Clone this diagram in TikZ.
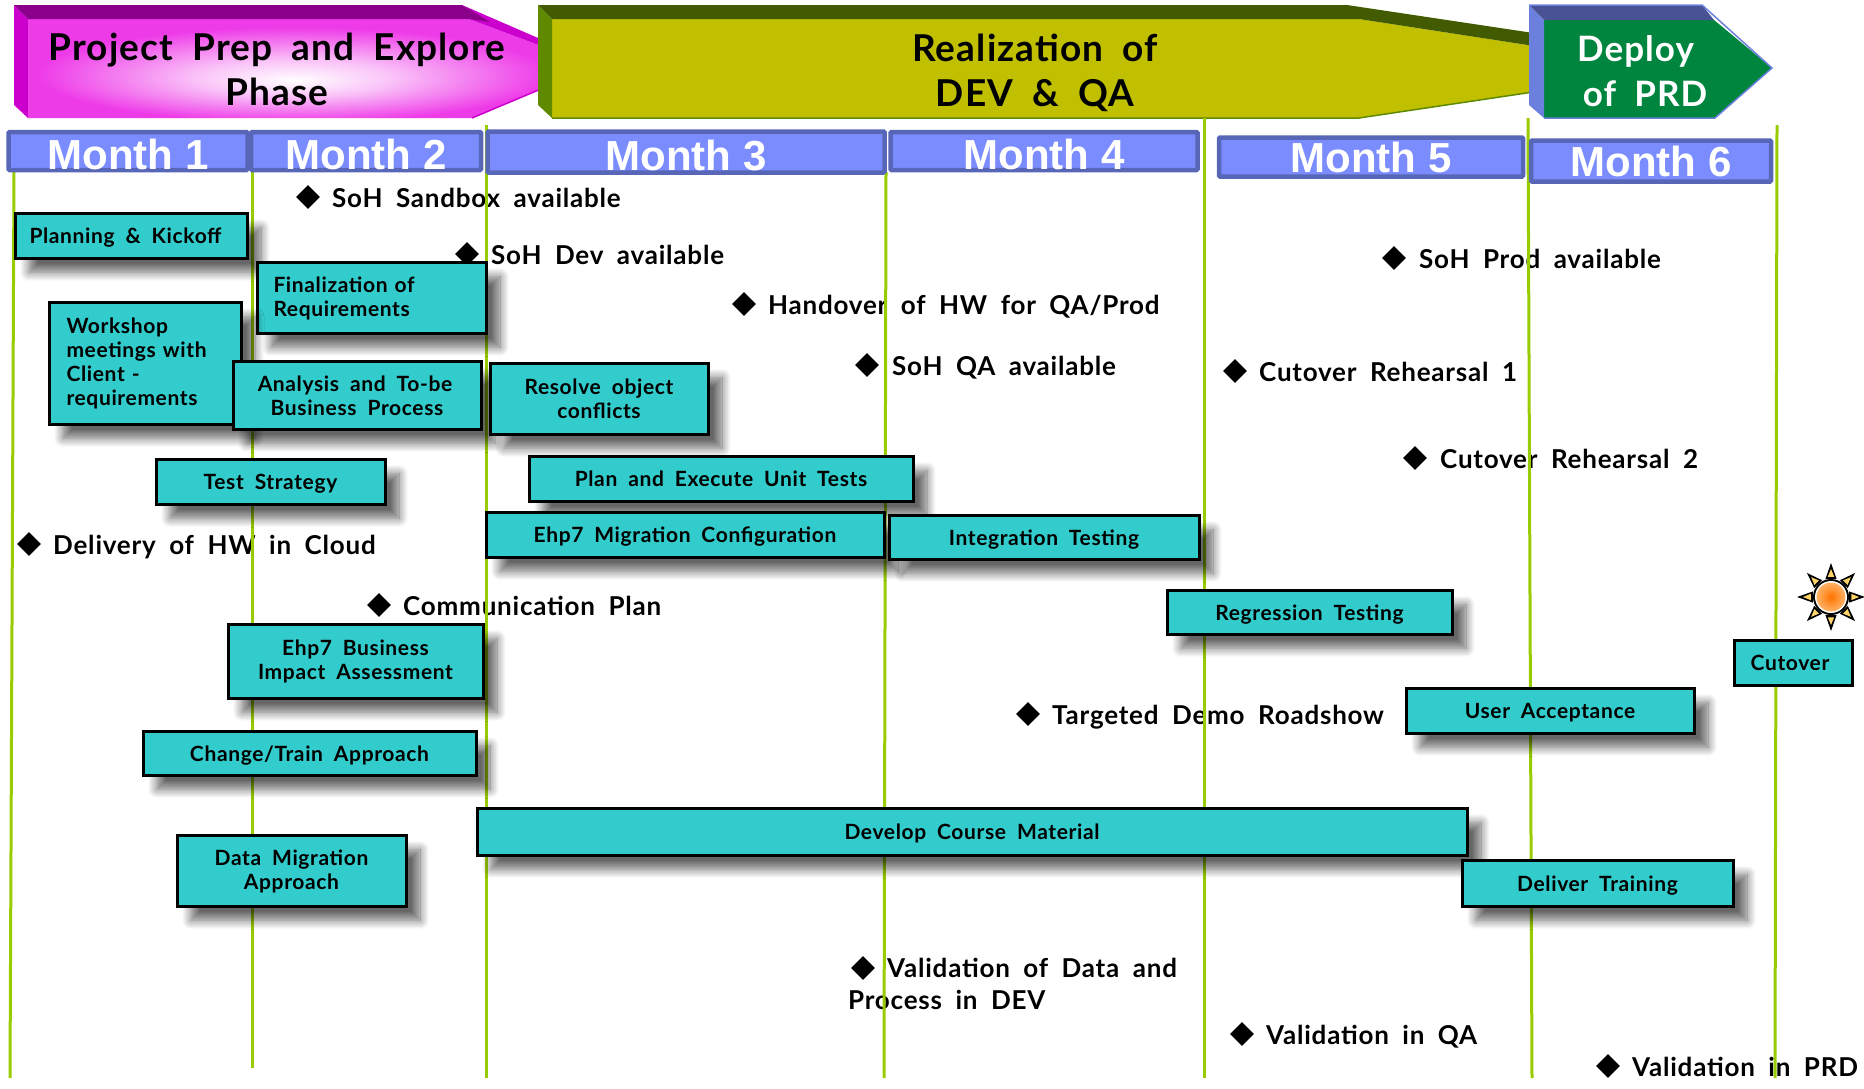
\documentclass[tikz,border=0pt]{standalone}
\usepackage{fontspec}
\setmainfont{Lato}[WordSpace=1.9,LetterSpace=3]
\newfontfamily\monthfont{Liberation Sans}
\usetikzlibrary{calc,shapes.geometric,shadows.blur}

\definecolor{taskteal}{HTML}{33CCCC}
\definecolor{gridgreen}{HTML}{99CC00}
\definecolor{monthfill}{HTML}{7B8CFF}
\definecolor{monthedge}{HTML}{5866B8}
\definecolor{prepface}{HTML}{EE3BE8}
\definecolor{prepside}{HTML}{CC00CC}
\definecolor{preptop}{HTML}{8B008B}
\definecolor{devface}{HTML}{C0C000}
\definecolor{devside}{HTML}{5F8A00}
\definecolor{devtop}{HTML}{425B00}
\definecolor{prdface}{HTML}{00853F}
\definecolor{prdside}{HTML}{6B7FDC}
\definecolor{prdtop}{HTML}{4A5296}
\definecolor{rayfill}{HTML}{FFD466}

\pgfdeclareradialshading{prepglow}{\pgfpoint{0bp}{-6bp}}{%
  color(0bp)=(white); color(9bp)=(white!70!prepface); color(24bp)=(prepface); color(50bp)=(prepface)}

\tikzset{
  plainbox/.style={draw=black,line width=3pt,fill=taskteal,inner sep=0pt,outer sep=0pt,align=center,
    font=\fontsize{21}{24}\selectfont\bfseries},
  taskbox/.style={plainbox,
    blur shadow={shadow xshift=14pt,shadow yshift=-14pt,shadow blur radius=9pt,shadow blur steps=12,shadow opacity=60}},
  oneline/.style={text height=21pt,text depth=6pt},
  monthbar/.style={draw=monthedge,line width=4.5pt,fill=monthfill,inner sep=0pt,text=white,rounded corners=1pt,
    font=\monthfont\fontsize{42}{42}\selectfont\bfseries},
  lowmonth/.style={monthbar,text height=37pt,text depth=0pt},
  gem/.style={diamond,fill=black,minimum size=24pt,inner sep=0pt},
  milestone/.style={anchor=west,inner sep=0pt,align=left,font=\fontsize{26}{32}\selectfont\bfseries},
  onemark/.style={milestone,text height=27pt,text depth=7pt},
  gridline/.style={gridgreen,line width=3pt},
  phasetitle/.style={align=center,inner sep=0pt,font=\fontsize{37}{45}\selectfont\bfseries}
}

\begin{document}
\begin{tikzpicture}[x=1pt,y=-1pt]

\useasboundingbox (0,0) rectangle (1864,1088);

% Prep phase arrow
\fill[prepside] (14,5) -- (28,19) -- (28,118) -- (14,105) -- cycle;
\path[shading=prepglow] (28,19) -- (469,19) -- (560,53) -- (560,81) -- (472,118) -- (28,118) -- cycle;
\fill[prepside] (462,5) -- (560,47.5) -- (560,53) -- (469,19) -- cycle;
\fill[preptop] (14,5) -- (462,5) -- (490,22) -- (469,19) -- (28,19) -- cycle;
\draw[prepside,line width=1.5pt] (472,118) -- (560,81);

% Realization phase arrow
\fill[devface] (552,19) -- (1359,19) -- (1560,50) -- (1560,88) -- (1359,118) -- (552,118) -- cycle;
\fill[devside] (538,5) -- (552,19) -- (552,118) -- (538,105) -- cycle;
\fill[devtop] (538,5) -- (1347,5) -- (1560,37) -- (1560,50) -- (1359,19) -- (552,19) -- cycle;
\draw[devside,line width=1.5pt] (552,118) -- (1359,118) -- (1560,88);

% Deploy phase arrow
\fill[prdface] (1544,20) -- (1714,20) -- (1772,68) -- (1715,118) -- (1544,118) -- cycle;
\fill[prdside] (1529,5) -- (1544,20) -- (1544,118) -- (1529,105) -- cycle;
\fill[prdtop] (1529,5) -- (1702,5) -- (1714,20) -- (1544,20) -- cycle;
\draw[prdside,line width=1.5pt] (1529,5) -- (1702,5) -- (1772,68) -- (1715,118) -- (1544,118);

% Phase titles
\node[phasetitle] (preptitle) at (277,69) {Project Prep and Explore\\Phase};
\node[phasetitle] (devtitle) at (1035,73) {Realization of\\DEV \& QA};
\node[phasetitle,text=white,font=\fontsize{35}{45}\selectfont\bfseries] (prdtitle) at (1645,71) {\hspace*{-19pt}Deploy\\of PRD};

% Milestones
\node[gem] (sandboxgem) at (308,197) {};
\node[onemark] (sandbox) at (332,197) {SoH Sandbox available};
\node[gem] (devgem) at (467,254) {};
\node[onemark] (devsoh) at (491,254) {SoH Dev available};
\node[gem] (handovergem) at (744,304) {};
\node[onemark] (handover) at (768,304) {Handover of HW for QA/Prod};
\node[gem] (qagem) at (867,365) {};
\node[onemark] (qasoh) at (892,365) {SoH QA available};
\node[gem] (prodgem) at (1394,258) {};
\node[onemark] (prodsoh) at (1419,258) {SoH Prod available};
\node[gem] (rehearsalagem) at (1235,371) {};
\node[onemark] (rehearsala) at (1259,371) {Cutover Rehearsal 1};
\node[gem] (rehearsalbgem) at (1415,458) {};
\node[onemark] (rehearsalb) at (1440,458) {Cutover Rehearsal 2};
\node[gem] (cloudgem) at (29,544) {};
\node[onemark] (cloud) at (53,544) {Delivery of HW in Cloud};
\node[gem] (commsgem) at (379,605) {};
\node[onemark] (comms) at (403,605) {Communication Plan};
\node[gem] (demogem) at (1028,714) {};
\node[onemark] (demo) at (1052,714) {Targeted Demo Roadshow};
\node[gem] (valdatagem) at (863,968) {};
\node[milestone] (valdata) at (848,984) {\hspace*{39pt}Validation of Data and\\Process in DEV};
\node[gem] (valqagem) at (1242,1034) {};
\node[onemark] (valqa) at (1266,1034) {Validation in QA};
\node[gem] (valprdgem) at (1608,1066) {};
\node[onemark] (valprd) at (1632,1066) {Validation in PRD};

% Month grid lines
\draw[gridline] (14,172) -- (10,1078);
\draw[gridline] (252,172) -- (252,1068);
\draw[gridline] (486,125) -- (486,1078);
\draw[gridline] (886,172) -- (884,1078);
\draw[gridline] (1204,118) -- (1204,1078);
\draw[gridline] (1528,118) -- (1532,1078);
\draw[gridline] (1777,125) -- (1775,1078);

% Month bars
\node[lowmonth,minimum width=239pt,minimum height=38pt] (monthone) at (128,151) {Month 1};
\node[lowmonth,minimum width=230pt,minimum height=38pt] (monthtwo) at (366,151) {Month 2};
\node[lowmonth,minimum width=397pt,minimum height=41pt] (monththree) at (686,152) {Month 3};
\node[lowmonth,minimum width=307pt,minimum height=38pt] (monthfour) at (1044,151) {Month 4};
\node[monthbar,minimum width=304pt,minimum height=39pt] (monthfive) at (1371,157) {Month 5};
\node[monthbar,minimum width=240pt,minimum height=41pt] (monthsix) at (1651,161) {Month 6};

% Tasks
\node[taskbox,oneline,minimum width=232pt,minimum height=44.5pt] (planning) at (131,236) {\hspace*{-11pt}Planning \& Kickoff};
\node[taskbox,minimum width=229pt,minimum height=70.5pt,text width=196pt,align=left] (finalization) at (371.5,298) {Finalization of\\Requirements};
\node[taskbox,minimum width=192pt,minimum height=121.5pt,text width=157pt,align=left] (workshop) at (145,363.5) {Workshop\\meetings with\\Client -\\requirements};
\node[taskbox,minimum width=248pt,minimum height=67.5pt] (analysis) at (357,395.5) {\hspace*{-4pt}Analysis and To-be\\Business Process};
\node[taskbox,oneline,minimum width=229pt,minimum height=44.5pt] (strategy) at (270.5,482) {Test Strategy};
\node[taskbox,minimum width=218pt,minimum height=70.5pt] (conflicts) at (599,399) {Resolve object\\conflicts};
\node[taskbox,oneline,minimum width=384pt,minimum height=44.5pt] (unittests) at (721,479) {Plan and Execute Unit Tests};
\node[taskbox,oneline,minimum width=398pt,minimum height=44.5pt] (config) at (685,535) {Ehp7 Migration Configuration};
\node[taskbox,oneline,minimum width=310pt,minimum height=43.5pt] (integration) at (1044,537.5) {Integration Testing};
\node[taskbox,oneline,minimum width=285pt,minimum height=43.5pt] (regression) at (1309.5,612.5) {Regression Testing};
\node[taskbox,oneline,minimum width=288pt,minimum height=44.5pt] (acceptance) at (1550,711) {User Acceptance};
\node[plainbox,oneline,minimum width=118pt,minimum height=44.5pt] (cutover) at (1793,663) {\hspace*{-6pt}Cutover};
\node[taskbox,minimum width=255pt,minimum height=73.5pt] (impact) at (355.5,661.5) {Ehp7 Business\\Impact Assessment};
\node[taskbox,oneline,minimum width=333pt,minimum height=43.5pt] (changetrain) at (309.5,753.5) {Change/Train Approach};
\node[taskbox,oneline,minimum width=990pt,minimum height=46.5pt] (course) at (972,832) {Develop Course Material};
\node[taskbox,minimum width=229pt,minimum height=70.5pt] (datamigration) at (291.5,871) {Data Migration\\Approach};
\node[taskbox,oneline,minimum width=271pt,minimum height=45.5pt] (training) at (1597.5,883.5) {Deliver Training};

% Cutover sun
\coordinate (sun) at (1831,597);
\foreach \a in {0,45,...,315}{
  \fill[black] ($(sun)+(\a+17:19)$) -- ($(sun)+(\a:34)$) -- ($(sun)+(\a-17:19)$) -- cycle;
  \fill[rayfill] ($(sun)+(\a+9:20.5)$) -- ($(sun)+(\a:28)$) -- ($(sun)+(\a-9:20.5)$) -- cycle;
}
\fill[black] (sun) circle (18);
\fill[white] (sun) circle (16);
\shade[inner color=orange!90!red,outer color=orange!60!white] (sun) circle (14.5);

\end{tikzpicture}
\end{document}
